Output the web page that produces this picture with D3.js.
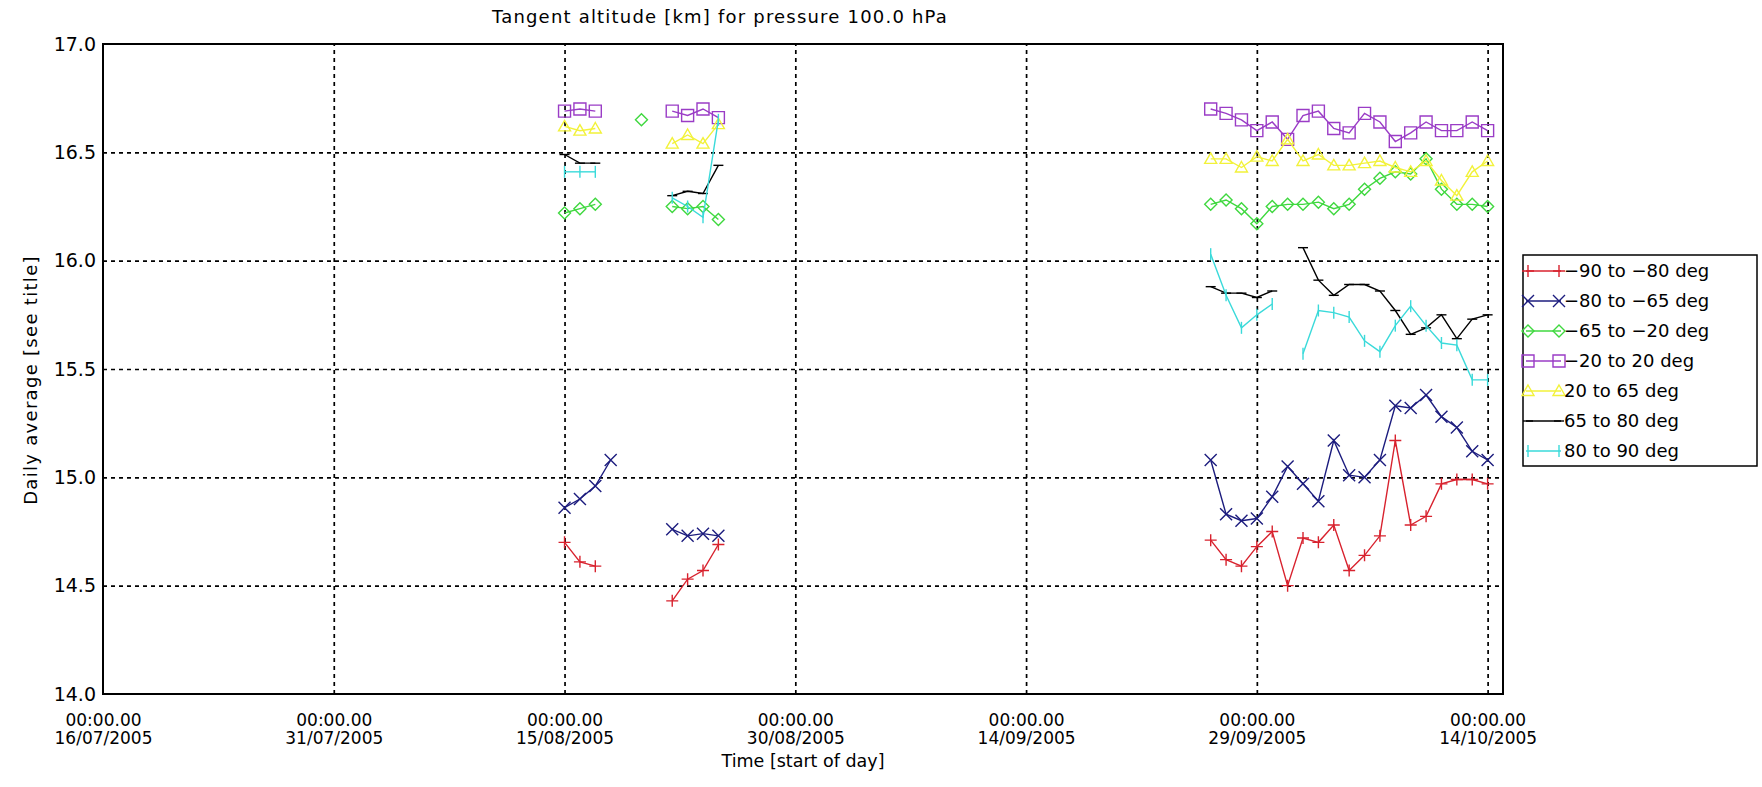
<!DOCTYPE html>
<html><head><meta charset="utf-8">
<script src="https://cdn.jsdelivr.net/npm/d3@7"></script>
<style>
body{margin:0;background:#fff}
svg{display:block}
text{font-family:"DejaVu Sans",sans-serif;fill:#000}
</style>
</head><body>
<svg id="chart" width="1762" height="787"></svg>
<script>
// ---------- DATA ----------
const dates = [
  "2005-08-15","2005-08-16","2005-08-17","2005-08-18","2005-08-20",
  "2005-08-22","2005-08-23","2005-08-24","2005-08-25",
  "2005-09-26","2005-09-27","2005-09-28","2005-09-29","2005-09-30",
  "2005-10-01","2005-10-02","2005-10-03","2005-10-04","2005-10-05",
  "2005-10-06","2005-10-07","2005-10-08","2005-10-09","2005-10-10",
  "2005-10-11","2005-10-12","2005-10-13","2005-10-14"
];
const seriesNames = ["\u221290 to \u221280 deg","\u221280 to \u221265 deg","\u221265 to \u221220 deg",
  "\u221220 to 20 deg","20 to 65 deg","65 to 80 deg","80 to 90 deg"];
const lat90to80S = [14.70,14.61,14.59,null,null,14.43,14.53,14.57,14.69,
  14.71,14.62,14.59,14.68,14.75,14.50,14.72,14.70,14.78,14.57,14.64,14.73,15.17,14.78,14.82,14.97,14.99,14.99,14.97];
const lat80to65S = [14.86,14.90,14.96,15.08,null,14.76,14.73,14.74,14.73,
  15.08,14.83,14.80,14.81,14.91,15.05,14.97,14.89,15.17,15.01,15.00,15.08,15.33,15.32,15.38,15.28,15.23,15.12,15.08];
const lat65to20S = [16.22,16.24,16.26,null,16.65,16.25,16.24,16.25,16.19,
  16.26,16.28,16.24,16.17,16.25,16.26,16.26,16.27,16.24,16.26,16.33,16.38,16.41,16.40,16.47,16.33,16.26,16.26,16.25];
const lat20Sto20N = [16.69,16.70,16.69,null,null,16.69,16.67,16.70,16.66,
  16.70,16.68,16.65,16.60,16.64,16.56,16.67,16.69,16.61,16.59,16.68,16.64,16.55,16.59,16.64,16.60,16.60,16.64,16.60];
const lat20to65N = [16.62,16.60,16.61,null,null,16.54,16.58,16.54,16.63,
  16.47,16.47,16.43,16.48,16.46,16.56,16.46,16.49,16.44,16.44,16.45,16.46,16.43,16.41,16.46,16.37,16.30,16.41,16.46];
const lat65to80N = [16.49,16.45,16.45,null,null,16.30,16.32,16.31,16.44,
  15.88,15.85,15.85,15.83,15.86,null,16.06,15.91,15.84,15.89,15.89,15.86,15.77,15.66,15.69,15.75,15.64,15.73,15.75];
const lat80to90N = [16.41,16.41,16.41,null,null,16.29,16.25,16.20,16.65,
  16.03,15.84,15.69,15.75,15.80,null,15.57,15.77,15.76,15.74,15.63,15.58,15.70,15.79,15.70,15.62,15.61,15.45,15.45];
const xTickDates = ["2005-07-16","2005-07-31","2005-08-15","2005-08-30","2005-09-14","2005-09-29","2005-10-14"];
const yTicks = [14.0,14.5,15.0,15.5,16.0,16.5,17.0];
const titleText = "Tangent altitude [km] for pressure 100.0 hPa";
const xTitle = "Time [start of day]";
const yTitle = "Daily average [see title]";

// ---------- STYLE ----------
const styles = [
  {color:"#d8222e", marker:"plus",     s:6},
  {color:"#1c1c7e", marker:"cross",    s:6},
  {color:"#3fd83f", marker:"diamond",  s:6},
  {color:"#9a3cc6", marker:"square",   s:6},
  {color:"#f2f23a", marker:"triangle", s:6},
  {color:"#000000", marker:"hdash",    s:5},
  {color:"#3adada", marker:"vbar",     s:6}
];
const allValues = [lat90to80S,lat80to65S,lat65to20S,lat20Sto20N,lat20to65N,lat65to80N,lat80to90N];

const W = 1762, H = 787;
const L = 103, R = 1503, T = 44, B = 694;
const parse = d3.utcParse("%Y-%m-%d");
const x = d3.scaleUtc().domain([parse("2005-07-16"), parse("2005-10-15")]).range([L, R]);
const y = d3.scaleLinear().domain([14, 17]).range([B, T]);

const svg = d3.select("#chart");
svg.append("rect").attr("width",W).attr("height",H).attr("fill","#fff");

// gridlines
const gridX = xTickDates.map(parse).filter(d => x(d) > L + 1 && x(d) < R - 1);
svg.append("g").attr("transform",`translate(0,${B})`)
  .call(d3.axisBottom(x).tickValues(gridX).tickSize(-(B-T)).tickFormat(""))
  .call(g => g.select(".domain").remove())
  .selectAll("line").attr("stroke","#000").attr("stroke-width",1.7).attr("stroke-dasharray","4,4");
const gridY = yTicks.filter(v => v > 14 && v < 17);
svg.append("g").attr("transform",`translate(${L},0)`)
  .call(d3.axisLeft(y).tickValues(gridY).tickSize(-(R-L)).tickFormat(""))
  .call(g => g.select(".domain").remove())
  .selectAll("line").attr("stroke","#000").attr("stroke-width",1.7).attr("stroke-dasharray","4,4");

// x axis labels (two lines)
const xAxis = svg.append("g").attr("transform",`translate(0,${B})`)
  .call(d3.axisBottom(x).tickValues(xTickDates.map(parse)).tickSize(0).tickPadding(0)
    .tickFormat(d3.utcFormat("%d/%m/%Y")));
xAxis.select(".domain").remove();
xAxis.selectAll("text").each(function(d){
  const t = d3.select(this);
  t.text(null).attr("y",0).attr("dy",null).attr("font-size",17).attr("font-family","DejaVu Sans");
  t.append("tspan").attr("x",0).attr("y",32).text(d3.utcFormat("%H:%M")(d) + ".00");
  t.append("tspan").attr("x",0).attr("y",50).text(d3.utcFormat("%d/%m/%Y")(d));
});

const yAxis = svg.append("g").attr("transform",`translate(${L},0)`)
  .call(d3.axisLeft(y).tickValues(yTicks).tickSize(0).tickPadding(7).tickFormat(d3.format(".1f")));
yAxis.select(".domain").remove();
yAxis.selectAll("text").attr("font-size",19).attr("font-family","DejaVu Sans");

// frame
svg.append("rect").attr("x",L).attr("y",T).attr("width",R-L).attr("height",B-T)
  .attr("fill","none").attr("stroke","#000").attr("stroke-width",2);

// markers
function markerPath(type, s){
  switch(type){
    case "plus": return `M${-s},0H${s}M0,${-s}V${s}`;
    case "cross": return `M${-s},${-s}L${s},${s}M${-s},${s}L${s},${-s}`;
    case "diamond": return `M0,${-s}L${s},0L0,${s}L${-s},0Z`;
    case "square": return `M${-s},${-s}H${s}V${s}H${-s}Z`;
    case "triangle": return `M0,${-s}L${s},${s*0.75}L${-s},${s*0.75}Z`;
    case "hdash": return `M${-s},0H${s}`;
    case "vbar": return `M0,${-s}V${s}`;
  }
}

const line = d3.line().x(d => x(d.date)).y(d => y(d.v));
const dayMs = 86400000;
allValues.forEach((vals, i) => {
  const st = styles[i];
  const pts = dates.map((ds, j) => ({date: parse(ds), v: vals[j]})).filter(p => p.v != null);
  const segs = [];
  pts.forEach((p, k) => {
    if (k === 0 || (p.date - pts[k-1].date) > dayMs * 1.5) segs.push([p]);
    else segs[segs.length-1].push(p);
  });
  const g = svg.append("g");
  g.selectAll("path.l").data(segs.filter(s => s.length > 1)).join("path")
    .attr("d", line).attr("fill","none").attr("stroke",st.color).attr("stroke-width",1.4);
  g.selectAll("path.m").data(pts).join("path")
    .attr("transform", d => `translate(${x(d.date)},${y(d.v)})`)
    .attr("d", markerPath(st.marker, st.s))
    .attr("fill","none").attr("stroke",st.color).attr("stroke-width",1.4);
});

// title & axis titles
svg.append("text").attr("x",720).attr("y",23).attr("text-anchor","middle")
  .attr("font-size",18).attr("letter-spacing",1.2).text(titleText);
svg.append("text").attr("x",(L+R)/2).attr("y",767).attr("text-anchor","middle")
  .attr("font-size",17.5).text(xTitle);
svg.append("text").attr("transform",`translate(37,380) rotate(-90)`).attr("text-anchor","middle")
  .attr("font-size",18).attr("letter-spacing",1.3).text(yTitle);

// legend
const lx = 1523, ly = 255, lw = 234, lh = 211, row = 30;
svg.append("rect").attr("x",lx).attr("y",ly).attr("width",lw).attr("height",lh)
  .attr("fill","#fff").attr("stroke","#000").attr("stroke-width",1.5);
seriesNames.forEach((name, i) => {
  const st = styles[i];
  const yy = ly + 16 + row * i;
  const g = svg.append("g");
  g.append("line").attr("x1",lx+3).attr("x2",lx+38).attr("y1",yy).attr("y2",yy)
    .attr("stroke",st.color).attr("stroke-width",1.4);
  [lx+5, lx+36].forEach(px => g.append("path").attr("transform",`translate(${px},${yy})`)
    .attr("d", markerPath(st.marker, st.s)).attr("fill","none").attr("stroke",st.color).attr("stroke-width",1.4));
  g.append("text").attr("x",lx+41).attr("y",yy).attr("dy","0.36em").attr("font-size",18).text(name);
});
</script>
</body></html>
